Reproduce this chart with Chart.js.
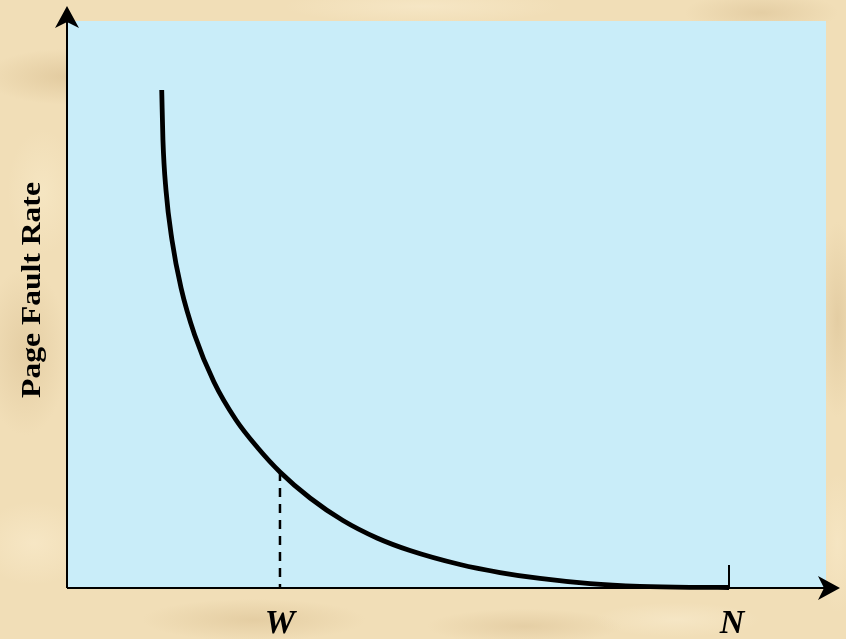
<!DOCTYPE html>
<html>
<head>
<meta charset="utf-8">
<title>Page Fault Rate</title>
<script src="https://cdn.jsdelivr.net/npm/chart.js@4"></script>
<style>
  html, body { margin: 0; padding: 0; }
  body {
    width: 846px; height: 639px; overflow: hidden;
    background-color: #f1deb7;
    background-image:
      radial-gradient(ellipse 120px 40px at 8% 12%, rgba(205,175,125,.40), transparent 70%),
      radial-gradient(ellipse 60px 120px at 3% 55%, rgba(210,182,135,.40), transparent 70%),
      radial-gradient(ellipse 50px 90px at 5% 30%, rgba(248,234,200,.6), transparent 70%),
      radial-gradient(ellipse 160px 30px at 30% 97%, rgba(205,175,125,.35), transparent 70%),
      radial-gradient(ellipse 140px 25px at 62% 98%, rgba(212,184,138,.40), transparent 70%),
      radial-gradient(ellipse 110px 30px at 90% 2%, rgba(205,176,128,.35), transparent 70%),
      radial-gradient(ellipse 30px 140px at 99% 50%, rgba(208,180,132,.40), transparent 70%),
      radial-gradient(ellipse 30px 100px at 99% 85%, rgba(250,236,205,.5), transparent 70%),
      radial-gradient(ellipse 80px 60px at 4% 85%, rgba(250,236,205,.6), transparent 70%),
      radial-gradient(ellipse 200px 25px at 50% 1%, rgba(250,238,210,.5), transparent 70%),
      radial-gradient(ellipse 120px 25px at 80% 97%, rgba(250,238,210,.5), transparent 70%);
  }
  #wrap { position: absolute; left: 0; top: 0; width: 846px; height: 639px; }
</style>
</head>
<body>
<div id="wrap"><canvas id="c" width="846" height="639"></canvas></div>
<script>
// Number of page frames vs. page fault rate (arbitrary units, 0-100)
const frames = [12.48, 12.64, 13.04, 13.83, 15.03, 16.82, 19.36, 22.27, 25.15, 28.06, 32.02, 36.36, 40.84, 45.19, 51.78, 57.05, 62.32, 68.91, 75.49, 82.08, 87.22];
const faultRate = [87.83, 79.01, 70.19, 61.38, 52.91, 44.62, 36.33, 29.63, 24.69, 20.46, 15.87, 11.90, 8.82, 6.61, 4.14, 2.73, 1.68, 0.76, 0.28, 0.11, 0.09];

// Marked points on the x axis: working set size and total pages
const markLabels = ['W', 'N'];
const markValues = [28.06, 87.22];

const yTitle = 'Page Fault Rate';

const points = frames.map((x, i) => ({ x: x, y: faultRate[i] }));

function arrowHead(ctx, tipX, tipY, dir) {
  ctx.beginPath();
  if (dir === 'up') {
    ctx.moveTo(tipX, tipY);
    ctx.lineTo(tipX + 12, tipY + 22);
    ctx.lineTo(tipX, tipY + 16);
    ctx.lineTo(tipX - 12, tipY + 22);
  } else {
    ctx.moveTo(tipX, tipY);
    ctx.lineTo(tipX - 22, tipY + 12);
    ctx.lineTo(tipX - 16, tipY);
    ctx.lineTo(tipX - 22, tipY - 12);
  }
  ctx.closePath();
  ctx.fill();
}

const plotBackground = {
  id: 'plotBackground',
  beforeDraw(chart) {
    const { ctx, chartArea: a } = chart;
    ctx.save();
    ctx.fillStyle = '#c9edf9';
    ctx.fillRect(a.left, a.top, a.right - a.left, a.bottom - a.top);
    ctx.restore();
  }
};

const axesAndMarks = {
  id: 'axesAndMarks',
  beforeDatasetsDraw(chart) {
    const { ctx, scales } = chart;
    const x = scales.x, y = scales.y;
    const x0 = x.getPixelForValue(0), y0 = y.getPixelForValue(0);
    ctx.save();
    ctx.strokeStyle = '#000';
    ctx.fillStyle = '#000';

    // dashed drop line at W, from the curve down to the axis
    const wX = x.getPixelForValue(markValues[0]);
    const wY = y.getPixelForValue(faultRate[frames.indexOf(markValues[0])]);
    ctx.lineWidth = 2.5;
    ctx.setLineDash([9, 7]);
    ctx.beginPath();
    ctx.moveTo(wX, wY);
    ctx.lineTo(wX, y0);
    ctx.stroke();
    ctx.setLineDash([]);

    // short tick at N
    const nX = x.getPixelForValue(markValues[1]);
    ctx.lineWidth = 2;
    ctx.beginPath();
    ctx.moveTo(nX, y0);
    ctx.lineTo(nX, y0 - 23);
    ctx.stroke();

    // axes with arrows
    ctx.beginPath();
    ctx.moveTo(x0, y0);
    ctx.lineTo(x0, 14);
    ctx.moveTo(x0, y0);
    ctx.lineTo(832, y0);
    ctx.stroke();
    arrowHead(ctx, x0, 6, 'up');
    arrowHead(ctx, 840, y0, 'right');

    // W / N labels under the axis
    ctx.font = 'bold italic 34px "Liberation Serif", "Times New Roman", serif';
    ctx.textAlign = 'center';
    ctx.textBaseline = 'alphabetic';
    markValues.forEach((v, i) => {
      ctx.fillText(markLabels[i], x.getPixelForValue(v) + (i === 1 ? 3 : 0), 633);
    });

    // rotated y axis title
    ctx.font = 'bold 27px "Liberation Serif", "Times New Roman", serif';
    ctx.translate(40, 290);
    ctx.rotate(-Math.PI / 2);
    ctx.scale(1.17, 1);
    ctx.fillText(yTitle, 0, 0);
    ctx.restore();
  }
};

new Chart(document.getElementById('c'), {
  type: 'line',
  data: {
    datasets: [{
      data: points,
      borderColor: '#000',
      borderWidth: 4.8,
      borderCapStyle: 'butt',
      borderJoinStyle: 'round',
      pointRadius: 0,
      fill: false,
      cubicInterpolationMode: 'monotone',
      clip: false
    }]
  },
  options: {
    responsive: false,
    animation: false,
    events: [],
    layout: { padding: { left: 67, right: 20, top: 21, bottom: 51 } },
    plugins: { legend: { display: false }, tooltip: { enabled: false } },
    scales: {
      x: { type: 'linear', min: 0, max: 100, display: false },
      y: { type: 'linear', min: 0, max: 100, display: false }
    }
  },
  plugins: [plotBackground, axesAndMarks]
});
</script>
</body>
</html>
